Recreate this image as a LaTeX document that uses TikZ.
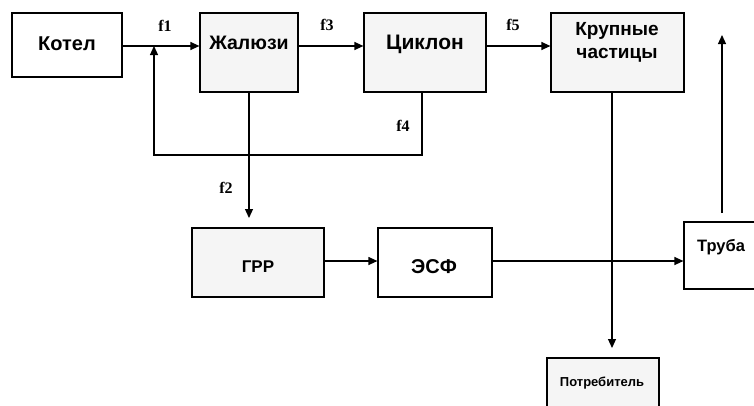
\documentclass[tikz,border=0pt]{standalone}
\usepackage{fontspec}
\setmainfont{Liberation Sans}
\newfontfamily\labfont{Liberation Serif}
\usetikzlibrary{arrows.meta}
\definecolor{boxgray}{HTML}{F5F5F5}
\tikzset{
  blk/.style={draw=black, line width=1.2pt, rectangle, inner sep=0pt},
  wht/.style={blk, fill=white},
  gry/.style={blk, fill=boxgray},
  txt/.style={font=\bfseries\fontsize{20}{24}\selectfont, align=center, inner sep=0pt},
  flab/.style={font=\labfont\bfseries\fontsize{16}{18}\selectfont, inner sep=0pt},
  conn/.style={line width=1.2pt, -{Triangle[length=9pt,width=8pt]}},
  plain/.style={line width=1.2pt}
}
\begin{document}
\begin{tikzpicture}[x=1pt,y=-1pt]
\useasboundingbox (0,0) rectangle (754,405);
% boxes
\node[wht, minimum width=110pt, minimum height=64pt] (kotel) at (67,45) {};
\node[gry, minimum width=98pt, minimum height=79pt] (zhal) at (249,52.5) {};
\node[gry, minimum width=122pt, minimum height=79pt] (cikl) at (425,52.5) {};
\node[gry, minimum width=133pt, minimum height=79pt] (krup) at (617.5,52.5) {};
\node[gry, minimum width=132pt, minimum height=69pt] (grr) at (258,262.5) {};
\node[wht, minimum width=114pt, minimum height=69pt] (esf) at (435,262.5) {};
\node[wht, minimum width=80pt, minimum height=67pt] (truba) at (724,255.5) {};
\node[gry, minimum width=112pt, minimum height=60pt] (potr) at (603,388) {};
% texts
\node[txt] (tkotel) at (67,44) {Котел};
\node[txt, font=\bfseries\fontsize{19.5}{24}\selectfont] (tzhal) at (249,43) {Жалюзи};
\node[txt, font=\bfseries\fontsize{21}{24}\selectfont] (tcikl) at (425,44) {Циклон};
\node[txt, font=\bfseries\fontsize{19}{23}\selectfont] (tkrup) at (617,42) {Крупные\\частицы};
\node[txt, font=\bfseries\fontsize{17}{20}\selectfont] (tgrr) at (258,267) {ГРР};
\node[txt] (tesf) at (434,267) {ЭСФ};
\node[txt, font=\bfseries\fontsize{16.5}{18}\selectfont] (ttruba) at (721,247) {Труба};
\node[txt, font=\bfseries\fontsize{13}{14}\selectfont] (tpotr) at (602,383) {Потребитель};
% labels
\node[flab] (f1) at (165,26) {f1};
\node[flab] (f3) at (327,25) {f3};
\node[flab] (f5) at (513,25) {f5};
\node[flab] (f4) at (403,126) {f4};
\node[flab] (f2) at (226,188) {f2};
% coordinates
\coordinate (fbtop) at (154,46);
\coordinate (fbcorner) at (154,155);
\coordinate (cyout) at (422,92);
\coordinate (cycorner) at (422,155);
\coordinate (upbot) at (722,213);
\coordinate (uptop) at (722,35);
% connectors
\draw[conn] (kotel.east |- 0,46) -- (zhal.west |- 0,46);
\draw[conn] (zhal.east |- 0,46) -- (cikl.west |- 0,46);
\draw[conn] (cikl.east |- 0,46) -- (krup.west |- 0,46);
\draw[conn] (cyout) -- (cycorner) -- (fbcorner) -- (fbtop);
\draw[conn] (zhal.south) -- (249,218);
\draw[conn] (grr.east |- 0,261) -- (esf.west |- 0,261);
\draw[conn] (esf.east |- 0,261) -- (truba.west |- 0,261);
\draw[conn] (krup.south -| 612,0) -- (612,348);
\draw[conn] (upbot) -- (uptop);
\end{tikzpicture}
\end{document}
